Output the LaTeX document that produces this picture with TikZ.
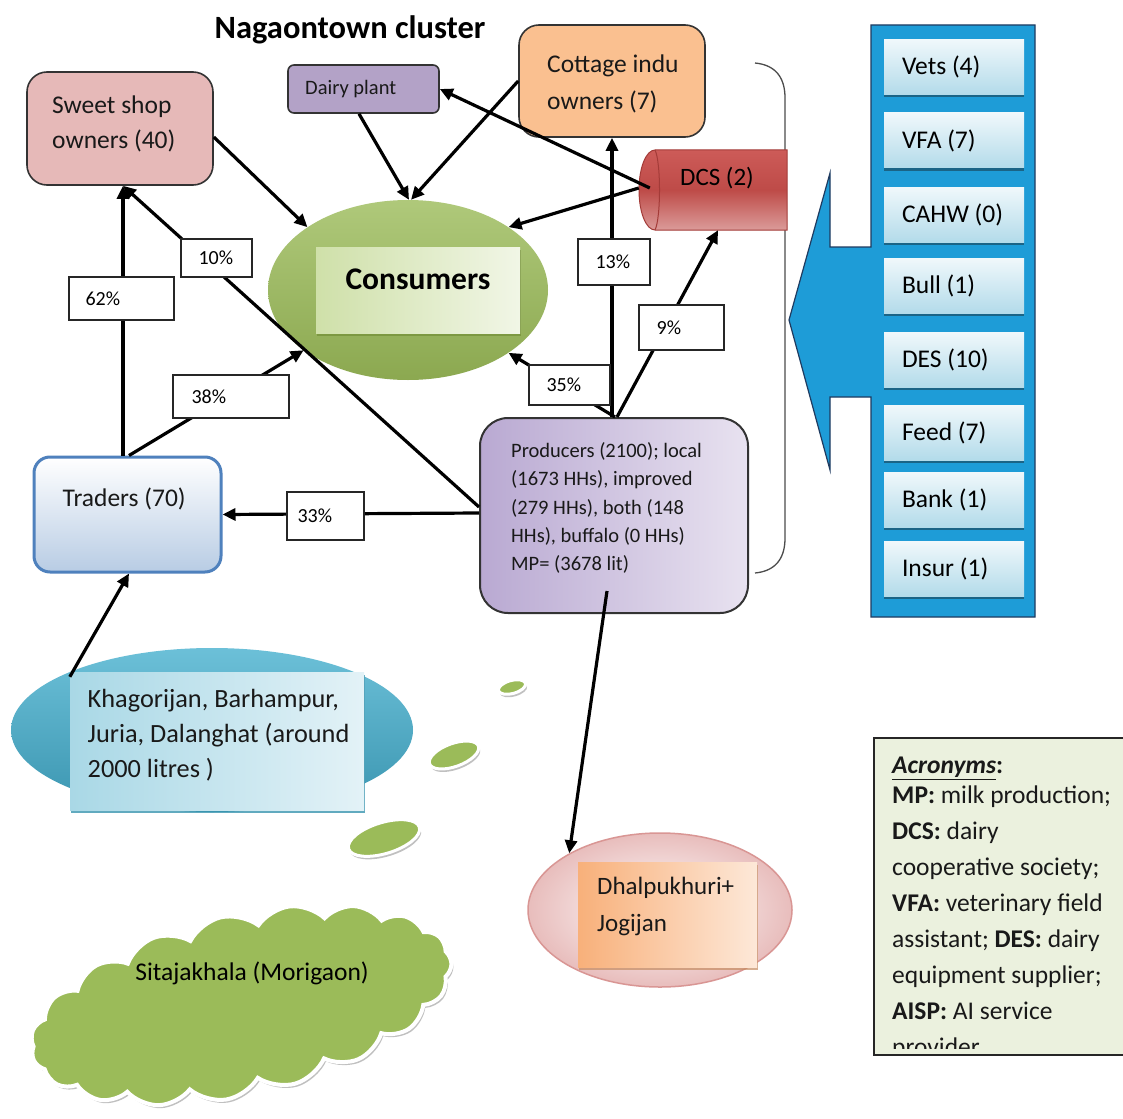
\documentclass[tikz,border=0pt]{standalone}
\usepackage{fontspec}
\setmainfont{Carlito}
\usetikzlibrary{arrows.meta,shapes.geometric,shapes.symbols,calc,shadows}

\definecolor{sweetfill}{HTML}{E6B9B8}
\definecolor{dairyfill}{HTML}{B3A2C7}
\definecolor{cottfill}{HTML}{FAC090}
\definecolor{consgreen}{HTML}{9BBB59}
\definecolor{consdark}{HTML}{77933C}
\definecolor{conslight}{HTML}{CFE0A9}
\definecolor{conspale}{HTML}{F1F6E6}
\definecolor{tradeblue}{HTML}{4F81BD}
\definecolor{tradepale}{HTML}{B8CCE4}
\definecolor{prodpurple}{HTML}{B9A9D2}
\definecolor{prodpale}{HTML}{E8E2F0}
\definecolor{panelblue}{HTML}{1E9CD7}
\definecolor{panelnavy}{HTML}{1F3B60}
\definecolor{itemtop}{HTML}{F0F8FB}
\definecolor{itembot}{HTML}{B3DBEA}
\definecolor{itemshade}{HTML}{1B5E7E}
\definecolor{aqualight}{HTML}{6CC0D8}
\definecolor{aquadark}{HTML}{3A95B0}
\definecolor{aquapale}{HTML}{A9D8E6}
\definecolor{aquawhite}{HTML}{E3F2F7}
\definecolor{pinkedge}{HTML}{D99694}
\definecolor{pinkfill}{HTML}{E8BDBC}
\definecolor{orangeleft}{HTML}{F8B07A}
\definecolor{orangeright}{HTML}{FDE8D8}
\definecolor{acrfill}{HTML}{EBF1DE}
\definecolor{dcstop}{HTML}{CD5B58}
\definecolor{dcsmid}{HTML}{BE4B48}
\definecolor{dcsbot}{HTML}{DB9B99}
\definecolor{dcsedge}{HTML}{A33B38}

\newcommand{\fsz}[2]{\fontsize{#1pt}{#2pt}\selectfont}

\begin{document}
\begin{tikzpicture}[x=1pt,y=-1pt,
  every node/.style={inner sep=0pt},
  box/.style={draw=black!80, line width=1.6pt, inner sep=0pt},
  txt/.style={inner sep=0pt, align=left, anchor=west, text=black!90},
  arr/.style={line width=3.2pt, -{Triangle[length=13pt,width=12pt]}},
  pct/.style={draw=black!85, line width=1.2pt, fill=white, inner sep=0pt},
  pctt/.style={inner sep=0pt, anchor=west, font=\fsz{20}{22}},
  item/.style={minimum width=140pt, minimum height=55pt, top color=itemtop, bottom color=itembot,
    drop shadow={shadow xshift=0pt, shadow yshift=-3pt, fill=itemshade, opacity=0.9}},
  itemt/.style={inner sep=0pt, anchor=west, font=\fsz{25.5}{28}},
  bubble/.style={ellipse, fill=consgreen, draw=white, line width=3pt,
    drop shadow={shadow xshift=1.5pt, shadow yshift=-3pt, fill=black!35, opacity=0.7}},
]

\useasboundingbox (0,0) rectangle (1123,1118);
\clip (0,0) rectangle (1123,1118);
\fill[white] (0,0) rectangle (1123,1118);

% title
\node[font=\fsz{32.5}{36}\bfseries] (title) at (350,30) {Nagaontown cluster};

% bracket round the producers and the DCS
\draw[line width=1.3pt, black!70] (755,63) .. controls (776,65) and (785,78) .. (785,98)
  -- (785,538) .. controls (785,558) and (776,571) .. (755,573);

% service providers panel with its arrow
\filldraw[fill=panelblue, draw=panelnavy, line width=1.2pt]
  (871,25) -- (1035,25) -- (1035,617) -- (871,617) -- (871,397) -- (830,397)
  -- (830,470) -- (789,320) -- (830,173) -- (830,247) -- (871,247) -- cycle;
\node[item] (vets) at (954,67) {};
\node[item] (vfa)  at (954,140.5) {};
\node[item] (cahw) at (954,214.5) {};
\node[item] (bull) at (954,285.5) {};
\node[item] (des)  at (954,359.5) {};
\node[item] (feed) at (954,432.5) {};
\node[item] (bank) at (954,499.5) {};
\node[item] (insur) at (954,568.5) {};
\node[itemt] (vets-t) at ([xshift=18pt]vets.west) {Vets (4)};
\node[itemt] (vfa-t)  at ([xshift=18pt]vfa.west) {VFA (7)};
\node[itemt] (cahw-t) at ([xshift=18pt]cahw.west) {CAHW (0)};
\node[itemt] (bull-t) at ([xshift=18pt]bull.west) {Bull (1)};
\node[itemt] (des-t)  at ([xshift=18pt]des.west) {DES (10)};
\node[itemt] (feed-t) at ([xshift=18pt]feed.west) {Feed (7)};
\node[itemt] (bank-t) at ([xshift=18pt]bank.west) {Bank (1)};
\node[itemt] (insur-t) at ([xshift=18pt]insur.west) {Insur (1)};

% actors
\node[box, rounded corners=20pt, fill=sweetfill, minimum width=186pt, minimum height=113pt] (sweet) at (120,128.5) {};
\node[txt, font=\fsz{25.5}{35}] (sweet-t) at (52,123.5) {Sweet shop\\owners (40)};

\node[box, rounded corners=6pt, fill=dairyfill, minimum width=151pt, minimum height=48pt] (dairy) at (363.5,89) {};
\node[txt, font=\fsz{20.5}{24}] (dairy-t) at (305,89) {Dairy plant};

\node[box, rounded corners=20pt, fill=cottfill, minimum width=186pt, minimum height=112pt] (cottage) at (612,81) {};
\node[txt, font=\fsz{25.5}{37}] (cottage-t) at (547,83.5) {Cottage indu\\owners (7)};

% DCS drawn as a lying cylinder
\node[minimum width=148pt, minimum height=80pt] (dcs) at (713,190) {};
\path[top color=dcstop, bottom color=dcsbot, middle color=dcsmid, draw=dcsedge, line width=1pt]
  (787,150) -- (655,150) .. controls (646,150) and (639,168) .. (639,190)
  .. controls (639,212) and (646,230) .. (655,230) -- (787,230) -- cycle;
\draw[dcsedge, line width=1pt] (655,150) .. controls (661,162) and (661,218) .. (655,230);
\node[font=\fsz{25}{30}] (dcs-t) at (717,178) {DCS (2)};

% consumers
\node[ellipse, minimum width=280pt, minimum height=180pt, top color=consgreen!80!white, bottom color=consgreen!90!black] (cons) at (408,290) {};
\node[minimum width=204pt, minimum height=86pt, left color=conslight, right color=conspale,
  drop shadow={shadow xshift=1pt, shadow yshift=-3pt, fill=consdark, opacity=0.8}] (consr) at (418,290) {};
\node[font=\fsz{31.5}{34}\bfseries] (cons-t) at (418,279) {Consumers};

% traders
\node[draw=tradeblue, line width=3pt, rounded corners=16pt, top color=white, bottom color=tradepale,
  minimum width=187pt, minimum height=115pt] (traders) at (127.5,514.5) {};
\node[txt, font=\fsz{25.5}{30}] (traders-t) at (62.5,499) {Traders (70)};

% producers
\node[box, line width=2pt, rounded corners=28pt, left color=prodpurple, right color=prodpale,
  minimum width=268pt, minimum height=195pt] (prod) at (614,515.5) {};
\node[txt, font=\fsz{20.5}{28.3}] (prod-t) at (511,508) {Producers (2100); local\\(1673 HHs), improved\\(279 HHs), both (148\\HHs), buffalo (0 HHs)\\MP= (3678 lit)};

% outlying villages
\node[ellipse, minimum width=402pt, minimum height=164pt, top color=aqualight, bottom color=aquadark] (khag) at (212,730) {};
\node[minimum width=294pt, minimum height=138pt, left color=aquapale, right color=aquawhite,
  drop shadow={shadow xshift=1pt, shadow yshift=-3pt, fill=aquadark, opacity=0.8}] (khagr) at (217,741) {};
\node[txt, font=\fsz{26.3}{35}] (khag-t) at (87.5,735) {Khagorijan, Barhampur,\\Juria, Dalanghat (around\\2000 litres )};

\node[bubble, minimum width=28pt, minimum height=13pt, rotate=15] (bub1) at (512,687) {};
\node[bubble, minimum width=52pt, minimum height=23pt, rotate=20] (bub2) at (454,755) {};
\node[bubble, minimum width=74pt, minimum height=31pt, rotate=17] (bub3) at (384,838) {};

\node[cloud, cloud puffs=19, cloud puff arc=100, cloud ignores aspect, minimum width=430pt,
  minimum height=180pt, rotate=13, fill=consgreen, draw=white, line width=4pt,
  drop shadow={shadow xshift=2pt, shadow yshift=-3pt, fill=black!35, opacity=0.7}] (cloud) at (241,1005) {};
\node[font=\fsz{25.5}{28}] (cloud-t) at (252,973) {Sitajakhala (Morigaon)};

\node[ellipse, draw=pinkedge, line width=1.5pt, inner color=white, outer color=pinkfill,
  minimum width=264pt, minimum height=154pt] (dhal) at (660,910) {};
\node[minimum width=179pt, minimum height=105pt, left color=orangeleft, right color=orangeright,
  drop shadow={shadow xshift=1pt, shadow yshift=-3pt, fill=orangeleft!80!black, opacity=0.7}] (dhalr) at (667.5,914.5) {};
\node[txt, font=\fsz{25}{37}] (dhal-t) at (597,906.5) {Dhalpukhuri+\\Jogijan};

% connectors
\draw[arr] ([yshift=-8.5pt]sweet.east) -- (cons.148);
\draw[arr] ([xshift=-4.5pt]dairy.south) -- ([xshift=1pt]cons.north);
\draw[arr] (cottage.west) -- ([xshift=3pt]cons.north);
\draw[arr] ([xshift=11pt,yshift=2pt]dcs.west) -- (dairy.east);
\draw[arr] ([yshift=2pt]dcs.west) -- (cons.32);
\draw[arr] ([xshift=-2pt]prod.north) -- (cottage.south);
\draw[arr] ([xshift=3pt]prod.north) -- ([xshift=5pt]dcs.south);
\draw[arr] ([xshift=1pt]prod.north) -- (cons.-32);
\draw[arr] ([yshift=2.5pt]prod.west) -- (traders.east);
\draw[arr] ([yshift=8.5pt]prod.west) -- ([xshift=3pt]sweet.south);
\draw[arr] ([xshift=-4.5pt]traders.north) -- ([xshift=3pt]sweet.south);
\draw[arr] ([xshift=1.5pt]traders.north) -- (cons.210);
\draw[arr] ([yshift=-5pt]khagr.north west) -- ([xshift=1.5pt]traders.south);
\draw[arr] ($(prod.south)+(-7,-23)$) -- (dhal.148);

% shares
\node[pct, minimum width=105pt, minimum height=43pt] (p62) at (121.5,298.5) {};
\node[pct, minimum width=71pt, minimum height=38pt] (p10) at (216.5,258) {};
\node[pct, minimum width=116pt, minimum height=43pt] (p38) at (231,396.5) {};
\node[pct, minimum width=72pt, minimum height=46pt] (p13) at (614,262) {};
\node[pct, minimum width=85pt, minimum height=45pt] (p9) at (681.5,327.5) {};
\node[pct, minimum width=81pt, minimum height=40pt] (p35) at (569.5,385) {};
\node[pct, minimum width=77pt, minimum height=48pt] (p33) at (325.5,516) {};
\node[pctt] (p62-t) at ([xshift=17pt]p62.west) {62\%};
\node[pctt] (p10-t) at ([xshift=18pt]p10.west) {10\%};
\node[pctt] (p38-t) at ([xshift=19pt]p38.west) {38\%};
\node[pctt] (p13-t) at ([xshift=18pt]p13.west) {13\%};
\node[pctt] (p9-t)  at ([xshift=18pt]p9.west) {9\%};
\node[pctt] (p35-t) at ([xshift=18pt]p35.west) {35\%};
\node[pctt] (p33-t) at ([xshift=11pt]p33.west) {33\%};

% acronyms
\node[draw=black!85, line width=1.3pt, fill=acrfill, minimum width=270pt, minimum height=317pt] (acr) at (1009,896.5) {};
\begin{scope}
  \clip (acr.north west) rectangle ([yshift=7pt]acr.south east);
  \node[txt, anchor=north west, font=\fsz{25.5}{36}] (acr-t) at (892,757)
    {\underline{\textbf{\textit{Acronyms}}}\textbf{:}\\[-6pt]
     \textbf{MP:} milk production;\\
     \textbf{DCS:} dairy\\
     cooperative society;\\
     \textbf{VFA:} veterinary field\\
     assistant; \textbf{DES:} dairy\\
     equipment supplier;\\
     \textbf{AISP:} AI service\\
     provider};
\end{scope}

\end{tikzpicture}
\end{document}
